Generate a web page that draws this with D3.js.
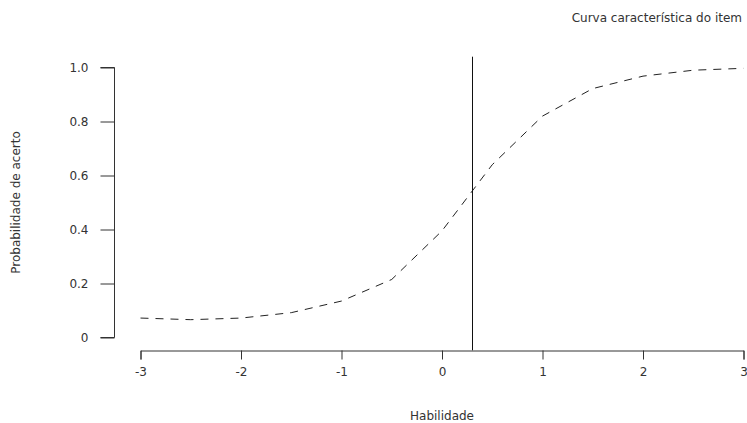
<!DOCTYPE html>
<html>
<head>
<meta charset="utf-8">
<script src="https://cdn.jsdelivr.net/npm/d3@7"></script>
<style>
  html, body { margin: 0; padding: 0; background: #fff; }
  svg { display: block; }
  text { font-family: "DejaVu Sans", sans-serif; fill: #333; }
</style>
</head>
<body>
<svg id="chart" width="747" height="423"></svg>
<script>
// Item characteristic curve: ability (theta) vs probability of a correct answer
const abilities = [-3, -2.5, -2, -1.5, -1, -0.5, 0, 0.5, 1, 1.5, 2, 2.5, 3];
const probabilities = [0.072, 0.066, 0.072, 0.092, 0.135, 0.215, 0.395, 0.64, 0.82, 0.922, 0.968, 0.99, 0.997];
const xTicks = [-3, -2, -1, 0, 1, 2, 3];
const yTicks = [0, 0.2, 0.4, 0.6, 0.8, 1.0];
const yTickLabels = ["0", "0.2", "0.4", "0.6", "0.8", "1.0"];
const difficulty = [0.3];   // vertical reference line position

const title = "Curva característica do item";
const xTitle = "Habilidade";
const yTitle = "Probabilidade de acerto";

const FONT = "'DejaVu Sans', sans-serif";
const svg = d3.select("#chart");

const x = d3.scaleLinear().domain([-3, 3]).range([140.5, 743.5]);
const y = d3.scaleLinear().domain([0, 1]).range([337.5, 67.5]);

// y axis
const yAxis = d3.axisLeft(y).tickValues(yTicks).tickSize(14).tickPadding(12)
  .tickFormat((d, i) => yTickLabels[i]);
const gy = svg.append("g").attr("transform", "translate(114.5,0)").call(yAxis);
gy.select(".domain").attr("d", `M-14,${y(1)}H0V${y(0)}H-14`).attr("stroke", "#333");
gy.selectAll(".tick line").attr("stroke", "#333");
gy.selectAll(".tick text").attr("font-size", 12).attr("fill", "#333")
  .attr("font-family", FONT);

// x axis
const xAxis = d3.axisBottom(x).tickValues(xTicks).tickSize(9).tickPadding(8)
  .tickFormat(d => String(d));
const gx = svg.append("g").attr("transform", "translate(0,350.5)").call(xAxis);
gx.select(".domain").attr("stroke", "#333");
gx.selectAll(".tick line").attr("stroke", "#333");
gx.selectAll(".tick text").attr("font-size", 12).attr("fill", "#333")
  .attr("font-family", FONT);

// curve
const pts = abilities.map((a, i) => [a, probabilities[i]]);
svg.append("path")
  .datum(pts)
  .attr("fill", "none")
  .attr("stroke", "#222")
  .attr("stroke-width", 1)
  .attr("stroke-dasharray", "8,7")
  .attr("d", d3.line().x(d => x(d[0])).y(d => y(d[1])));

// vertical line spanning the plot region (y domain padded by 4%)
svg.selectAll("line.ref")
  .data(difficulty)
  .join("line")
  .attr("class", "ref")
  .attr("x1", d => Math.round(x(d)) + 0.5)
  .attr("x2", d => Math.round(x(d)) + 0.5)
  .attr("y1", y(1.04))
  .attr("y2", y(-0.04) + 2)
  .attr("stroke", "#111")
  .attr("stroke-width", 1);

// titles
svg.append("text").attr("x", 742).attr("y", 22).attr("text-anchor", "end")
  .attr("font-size", 12).text(title);
svg.append("text").attr("x", x(0)).attr("y", 420).attr("text-anchor", "middle")
  .attr("font-size", 12).text(xTitle);
svg.append("text").attr("transform", `translate(20,${(y(0) + y(1)) / 2}) rotate(-90)`)
  .attr("text-anchor", "middle").attr("font-size", 12).text(yTitle);
</script>
</body>
</html>
